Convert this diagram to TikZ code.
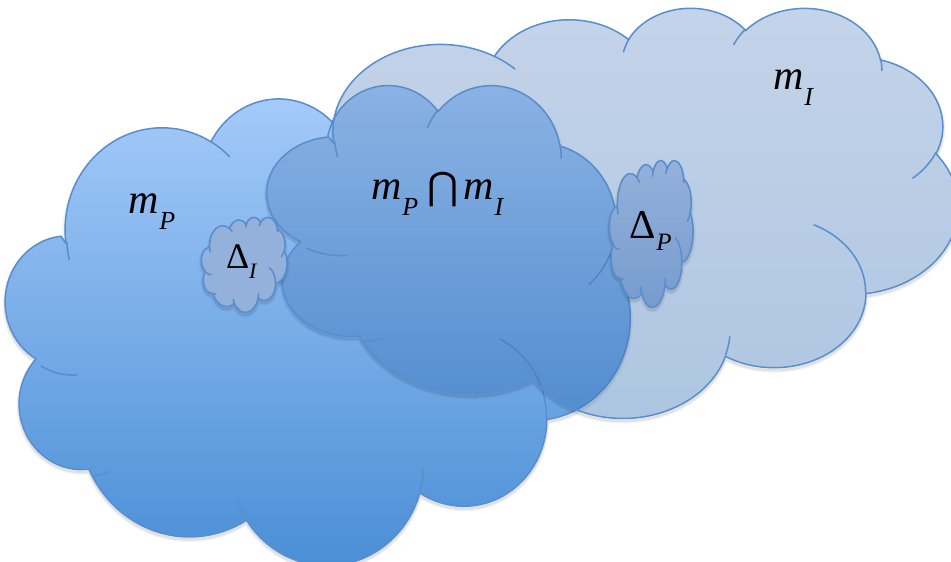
\documentclass[tikz,border=0pt]{standalone}
\usepackage{fontspec}
\setmainfont{Liberation Serif}
\newfontfamily\symfont{DejaVu Sans}
\definecolor{edge}{RGB}{88,142,205}
\definecolor{mptop}{RGB}{168,205,251}
\definecolor{mpbot}{RGB}{72,141,213}
\definecolor{mitop}{RGB}{108,147,200}
\definecolor{mibot}{RGB}{50,110,180}
\definecolor{dfill}{RGB}{147,177,218}
\definecolor{dptop}{RGB}{148,177,218}
\definecolor{dpbot}{RGB}{118,155,207}
\tikzset{
  cloudline/.style={draw=edge, line width=1.5pt, line join=round},
  innerline/.style={draw=edge, line width=1.5pt, line cap=round},
  shadowwide/.style={draw=black, draw opacity=0.05, line width=5pt},
  shadownarrow/.style={draw=black, draw opacity=0.07, line width=2.5pt},
  lbl/.style={inner sep=0pt, outer sep=0pt, anchor=base west, text=black},
}
\newcommand{\cloudouter}{(3.9,14.37)
 arc[start angle=-187.75, end angle=-59.64, x radius=6.753, y radius=9.19]
 arc[start angle=-152.02, end angle=-45.46, x radius=5.333, y radius=7.267]
 arc[start angle=-153.49, end angle=-37.33, x radius=4.365, y radius=5.945]
 arc[start angle=-139.72, end angle=-10.21, x radius=4.857, y radius=6.595]
 arc[start angle=-74.77, end angle=23.21, x radius=5.333, y radius=7.273]
 arc[start angle=-37.53, end angle=81.86, x radius=6.775, y radius=9.22]
 arc[start angle=0.46, end angle=121.98, x radius=5.785, y radius=7.867]
 arc[start angle=16.85, end angle=146.24, x radius=6.752, y radius=9.215]
 arc[start angle=58.99, end angle=155.09, x radius=7.72, y radius=10.543]
 arc[start angle=-276.69, end angle=-136.88, x radius=4.36, y radius=5.918]
 arc[start angle=-239.65, end angle=-95.88, x radius=4.345, y radius=5.945]
 -- cycle}
\newcommand{\cloudinner}{
 (4.693,26.177) arc[start angle=85.55, end angle=120.35, x radius=4.345, y radius=5.945]
 (6.928,34.899) arc[start angle=68.24, end angle=83.31, x radius=4.36, y radius=5.918]
 (16.478,39.09) arc[start angle=146.24, end angle=158.47, x radius=6.752, y radius=9.215]
 (28.827,34.751) arc[start angle=4.74, end angle=16.85, x radius=6.752, y radius=9.215]
 (34.129,22.954) arc[start angle=-64.03, end angle=0.46, x radius=5.785, y radius=7.867]
 (41.798,15.354) arc[start angle=23.21, end angle=49.65, x radius=5.333, y radius=7.273]
 (38.324,5.426) arc[start angle=-10.21, end angle=0.82, x radius=4.857, y radius=6.595]
 (29.078,3.952) arc[start angle=-156.30, end angle=-139.72, x radius=4.857, y radius=6.595]
 (22.141,4.72) arc[start angle=-167.73, end angle=-153.49, x radius=4.365, y radius=5.945]
 (14.0,5.192) arc[start angle=-59.64, end angle=-45.73, x radius=6.753, y radius=9.19]
 (4.127,15.789) arc[start angle=166.60, end angle=176.38, x radius=6.753, y radius=9.19]}
% #1 fill options, #2 left, #3 top, #4 width, #5 height (pixels, y downwards)
\newcommand{\pptcloud}[5]{%
  \begin{scope}[shift={(#2,#3)}, xscale=#4/43.2, yscale=#5/43.2]
    \begin{scope}[even odd rule]
      \clip (-6,-6) rectangle (50,52) \cloudouter;
      \path[shadowwide, shift={(0,108/#5)}] \cloudouter;
      \path[shadownarrow, shift={(0,108/#5)}] \cloudouter;
    \end{scope}
    \path[cloudline, #1] \cloudouter;
    \path[innerline] \cloudinner;
  \end{scope}}
\newcommand{\mvar}{{\fontsize{42}{42}\selectfont\itshape m}}
\newcommand{\lsub}[1]{\kern1pt\raisebox{-16pt}{\fontsize{26}{26}\selectfont\itshape #1}}
\begin{document}
\begin{tikzpicture}[x=1pt, y=1pt, yscale=-1]
  \useasboundingbox (0,0) rectangle (951,562);
  \clip (0,0) rectangle (951,562);
  % m_P cloud (opaque gradient)
  \pptcloud{top color=mptop, bottom color=mpbot}{10}{84}{620}{480}
  % m_I cloud (semi-transparent, on top)
  \pptcloud{top color=mitop, bottom color=mibot, fill opacity=0.4}{272}{7}{686}{410}
  % small clouds
  \pptcloud{fill=dfill}{202}{217}{85}{95}
  \pptcloud{top color=dptop, bottom color=dpbot}{610}{160}{83}{147}
  % labels
  \node[lbl] (mP) at (128,213) {\mvar\lsub{P}};
  \node[lbl] (mI) at (773,89) {\mvar\lsub{I}};
  \node[lbl] (mPI) at (371,199) {\mvar\lsub{P}\hspace{9pt}{\symfont\fontsize{38}{38}\selectfont ⋂}\hspace{5pt}\mvar\lsub{I}};
  \node[lbl] (dI) at (226,268) {{\fontsize{36}{36}\selectfont Δ}\raisebox{-10pt}{\fontsize{22}{22}\selectfont\itshape I}};
  \node[lbl] (dP) at (629,238) {{\fontsize{41}{41}\selectfont Δ}\kern1pt\raisebox{-12pt}{\fontsize{25}{25}\selectfont\itshape P}};
\end{tikzpicture}
\end{document}
